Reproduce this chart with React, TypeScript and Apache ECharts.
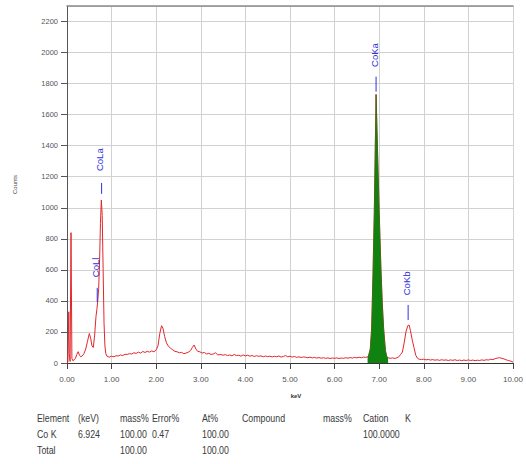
import React, { useEffect, useRef } from "react";
import * as echarts from "echarts";

// EDS spectrum: [keV, counts]
const spectrum: [number, number][] = [
  [0.0, 0], [0.02, 5], [0.04, 330], [0.05, 60], [0.07, 10], [0.09, 840], [0.11, 30], [0.13, 15],
  [0.16, 20], [0.19, 30], [0.22, 55], [0.25, 73], [0.28, 50], [0.31, 40], [0.34, 45], [0.38, 60],
  [0.42, 90], [0.46, 140], [0.5, 190], [0.53, 160], [0.56, 110], [0.59, 100], [0.62, 180], [0.65, 300],
  [0.67, 345], [0.69, 400], [0.71, 480], [0.73, 650], [0.75, 900], [0.77, 1050], [0.79, 950], [0.81, 600],
  [0.83, 260], [0.85, 110], [0.87, 60], [0.9, 42], [0.95, 38], [1.0, 44], [1.05, 40], [1.1, 47],
  [1.15, 45], [1.2, 52], [1.25, 48], [1.3, 56], [1.35, 55], [1.4, 60], [1.45, 58], [1.5, 66],
  [1.55, 62], [1.6, 70], [1.65, 64], [1.7, 74], [1.75, 68], [1.8, 75], [1.85, 70], [1.9, 78],
  [1.95, 72], [2.0, 85], [2.04, 110], [2.08, 190], [2.12, 240], [2.15, 225], [2.19, 170], [2.23, 130],
  [2.27, 110], [2.32, 95], [2.37, 85], [2.42, 75], [2.47, 72], [2.52, 66], [2.57, 68], [2.62, 60],
  [2.67, 64], [2.72, 70], [2.77, 80], [2.81, 100], [2.85, 116], [2.89, 90], [2.93, 75], [2.98, 72],
  [3.03, 64], [3.08, 68], [3.13, 58], [3.18, 62], [3.23, 55], [3.28, 58], [3.33, 66], [3.38, 52],
  [3.45, 55], [3.5, 50], [3.55, 54], [3.6, 48], [3.65, 52], [3.7, 46], [3.75, 55], [3.8, 48],
  [3.85, 50], [3.9, 44], [3.95, 52], [4.0, 46], [4.05, 50], [4.1, 44], [4.15, 48], [4.2, 42],
  [4.25, 47], [4.3, 43], [4.35, 46], [4.4, 40], [4.45, 45], [4.5, 41], [4.55, 44], [4.6, 39],
  [4.65, 43], [4.7, 40], [4.75, 45], [4.8, 38], [4.85, 42], [4.9, 48], [4.95, 40], [5.0, 44],
  [5.05, 38], [5.1, 42], [5.15, 36], [5.2, 40], [5.25, 35], [5.3, 39], [5.35, 37], [5.4, 34],
  [5.45, 38], [5.5, 33], [5.55, 36], [5.6, 32], [5.65, 35], [5.7, 31], [5.75, 34], [5.8, 30],
  [5.85, 33], [5.9, 29], [5.95, 32], [6.0, 30], [6.05, 33], [6.1, 29], [6.15, 32], [6.2, 30],
  [6.25, 34], [6.3, 31], [6.35, 35], [6.4, 32], [6.45, 36], [6.5, 33], [6.55, 37], [6.6, 34],
  [6.65, 38], [6.7, 36], [6.74, 40], [6.76, 45], [6.8, 90], [6.83, 220], [6.86, 560], [6.89, 970],
  [6.91, 1350], [6.93, 1730], [6.96, 1400], [7.0, 970], [7.04, 600], [7.07, 380], [7.1, 220], [7.14, 80],
  [7.17, 40], [7.2, 34], [7.25, 30], [7.3, 33], [7.35, 29], [7.4, 34], [7.44, 40], [7.48, 55],
  [7.52, 70], [7.56, 130], [7.6, 200], [7.64, 240], [7.67, 245], [7.7, 210], [7.74, 150], [7.78, 100],
  [7.82, 50], [7.86, 30], [7.9, 24], [7.95, 22], [8.0, 25], [8.05, 20], [8.1, 23], [8.15, 19],
  [8.2, 22], [8.25, 18], [8.3, 21], [8.35, 17], [8.4, 21], [8.45, 18], [8.5, 20], [8.55, 16],
  [8.6, 20], [8.65, 17], [8.7, 21], [8.75, 16], [8.8, 19], [8.85, 15], [8.9, 19], [8.95, 16],
  [9.0, 20], [9.05, 16], [9.1, 19], [9.15, 15], [9.2, 18], [9.25, 16], [9.3, 20], [9.35, 17],
  [9.4, 21], [9.45, 19], [9.5, 24], [9.55, 22], [9.6, 28], [9.65, 32], [9.7, 34], [9.75, 30],
  [9.8, 26], [9.85, 20], [9.9, 16], [9.95, 12], [10.0, 6],
];

// Integrated (filled) peak region, keV
const roiRange: [number, number] = [6.74, 7.2];

// Peak markers: name, energy, marker line bottom/top (counts), label centre (counts)
const peakNames = ["CoLa", "CoLl", "CoKa", "CoKb"];
const peakEnergy = [0.776, 0.678, 6.93, 7.649];
const peakLineLow = [1090, 393, 1748, 277];
const peakLineHigh = [1160, 484, 1845, 374];
const peakLabelAt = [1310, 616, 1984, 513];

// Results table
const tableHeader = ["Element", "(keV)", "mass%", "Error%", "At%", "Compound", "mass%", "Cation", "K"];
const tableRow1 = ["Co K", "6.924", "100.00", "0.47", "100.00", "", "", "100.0000", ""];
const tableRow2 = ["Total", "", "100.00", "", "100.00", "", "", "", ""];

const tableColX = [37, 78, 120, 152, 202, 242, 323, 363, 405];
const tableRowY = [418, 434, 450];

export default function App() {
  const ref = useRef<HTMLDivElement>(null);
  useEffect(() => {
    if (!ref.current) return;
    const chart = echarts.init(ref.current, undefined, { renderer: "svg" });
    const roi = spectrum.filter((p) => p[0] >= roiRange[0] && p[0] <= roiRange[1]);
    const peakData = peakNames.map((_, i) => [peakEnergy[i], peakLineLow[i], peakLineHigh[i], peakLabelAt[i]]);

    const tableTexts: any[] = [];
    [tableHeader, tableRow1, tableRow2].forEach((row, r) => {
      row.forEach((t, c) => {
        if (!t) return;
        tableTexts.push({
          type: "text",
          x: tableColX[c],
          y: tableRowY[r],
          scaleX: 0.8,
          style: {
            text: t,
            fill: "#3a3a3a",
            font: "11px 'Liberation Sans', Arial, sans-serif",
            verticalAlign: "middle",
            align: "left",
          },
        });
      });
    });

    const option: any = {
      animation: false,
      backgroundColor: "#ffffff",
      grid: { left: 67, right: 12, top: 6, bottom: 101, containLabel: false },
      xAxis: [
        {
          type: "value",
          min: 0,
          max: 10,
          interval: 1,
          name: "keV",
          nameLocation: "middle",
          nameGap: 30,
          nameTextStyle: { fontSize: 6, fontWeight: "bold", color: "#333", padding: [0, 0, 0, 12], fontFamily: "Liberation Sans" },
          axisLine: { onZero: false, lineStyle: { color: "#333", width: 1 } },
          axisTick: { show: true, length: 6, lineStyle: { color: "#444" } },
          axisLabel: {
            fontSize: 8,
            color: "#555",
            margin: 12,
            fontFamily: "Liberation Sans",
            formatter: (v: number) => v.toFixed(2),
          },
          splitLine: { show: true, lineStyle: { color: "#d2d2d2", width: 1 } },
        },
        {
          type: "value",
          position: "top",
          min: 0,
          max: 10,
          axisLine: { show: true, onZero: false, lineStyle: { color: "#8a8a8a", width: 1.5 } },
          axisTick: { show: false },
          axisLabel: { show: false },
          splitLine: { show: false },
        },
      ],
      yAxis: {
        type: "value",
        min: 0,
        max: 2300,
        interval: 200,
        name: "Counts",
        nameLocation: "middle",
        nameGap: 49,
        nameTextStyle: { fontSize: 6, color: "#444", fontFamily: "Liberation Sans" },
        axisLine: { show: true, lineStyle: { color: "#555", width: 1 } },
        axisTick: { show: true, length: 6, lineStyle: { color: "#555" } },
        axisLabel: {
          fontSize: 7.5,
          color: "#555",
          margin: 9,
          showMaxLabel: false,
          fontFamily: "Liberation Sans",
          formatter: (v: number) => String(v),
        },
        splitLine: { show: true, lineStyle: { color: "#d2d2d2", width: 1 } },
      },
      series: [
        {
          type: "line",
          data: spectrum,
          showSymbol: false,
          symbol: "none",
          lineStyle: { color: "#e3262b", width: 1 },
          z: 2,
        },
        {
          type: "line",
          data: roi,
          showSymbol: false,
          symbol: "none",
          lineStyle: { color: "#0f820f", width: 0.5 },
          areaStyle: { color: "#0f820f", opacity: 1 },
          z: 3,
        },
        {
          type: "custom",
          data: peakData,
          clip: false,
          z: 4,
          renderItem: (params: any, api: any) => {
            const i = params.dataIndex;
            const e = api.value(0);
            const pLow = api.coord([e, api.value(1)]);
            const pHigh = api.coord([e, api.value(2)]);
            const pText = api.coord([e, api.value(3)]);
            return {
              type: "group",
              children: [
                {
                  type: "line",
                  shape: { x1: pLow[0], y1: pLow[1], x2: pHigh[0], y2: pHigh[1] },
                  style: { stroke: "#3030e0", lineWidth: 1 },
                },
                {
                  type: "text",
                  x: pText[0] - 2,
                  y: pText[1],
                  rotation: Math.PI / 2,
                  style: {
                    text: peakNames[i],
                    fill: "#3030e0",
                    fontSize: 9.5,
                    fontFamily: "Liberation Sans",
                    align: "center",
                    verticalAlign: "middle",
                  },
                },
              ],
            };
          },
        },
      ],
      graphic: tableTexts,
    };
    chart.setOption(option);
    return () => chart.dispose();
  }, []);
  return <div ref={ref} style={{ width: 526, height: 464, position: "absolute", left: 0, top: 0 }} />;
}
